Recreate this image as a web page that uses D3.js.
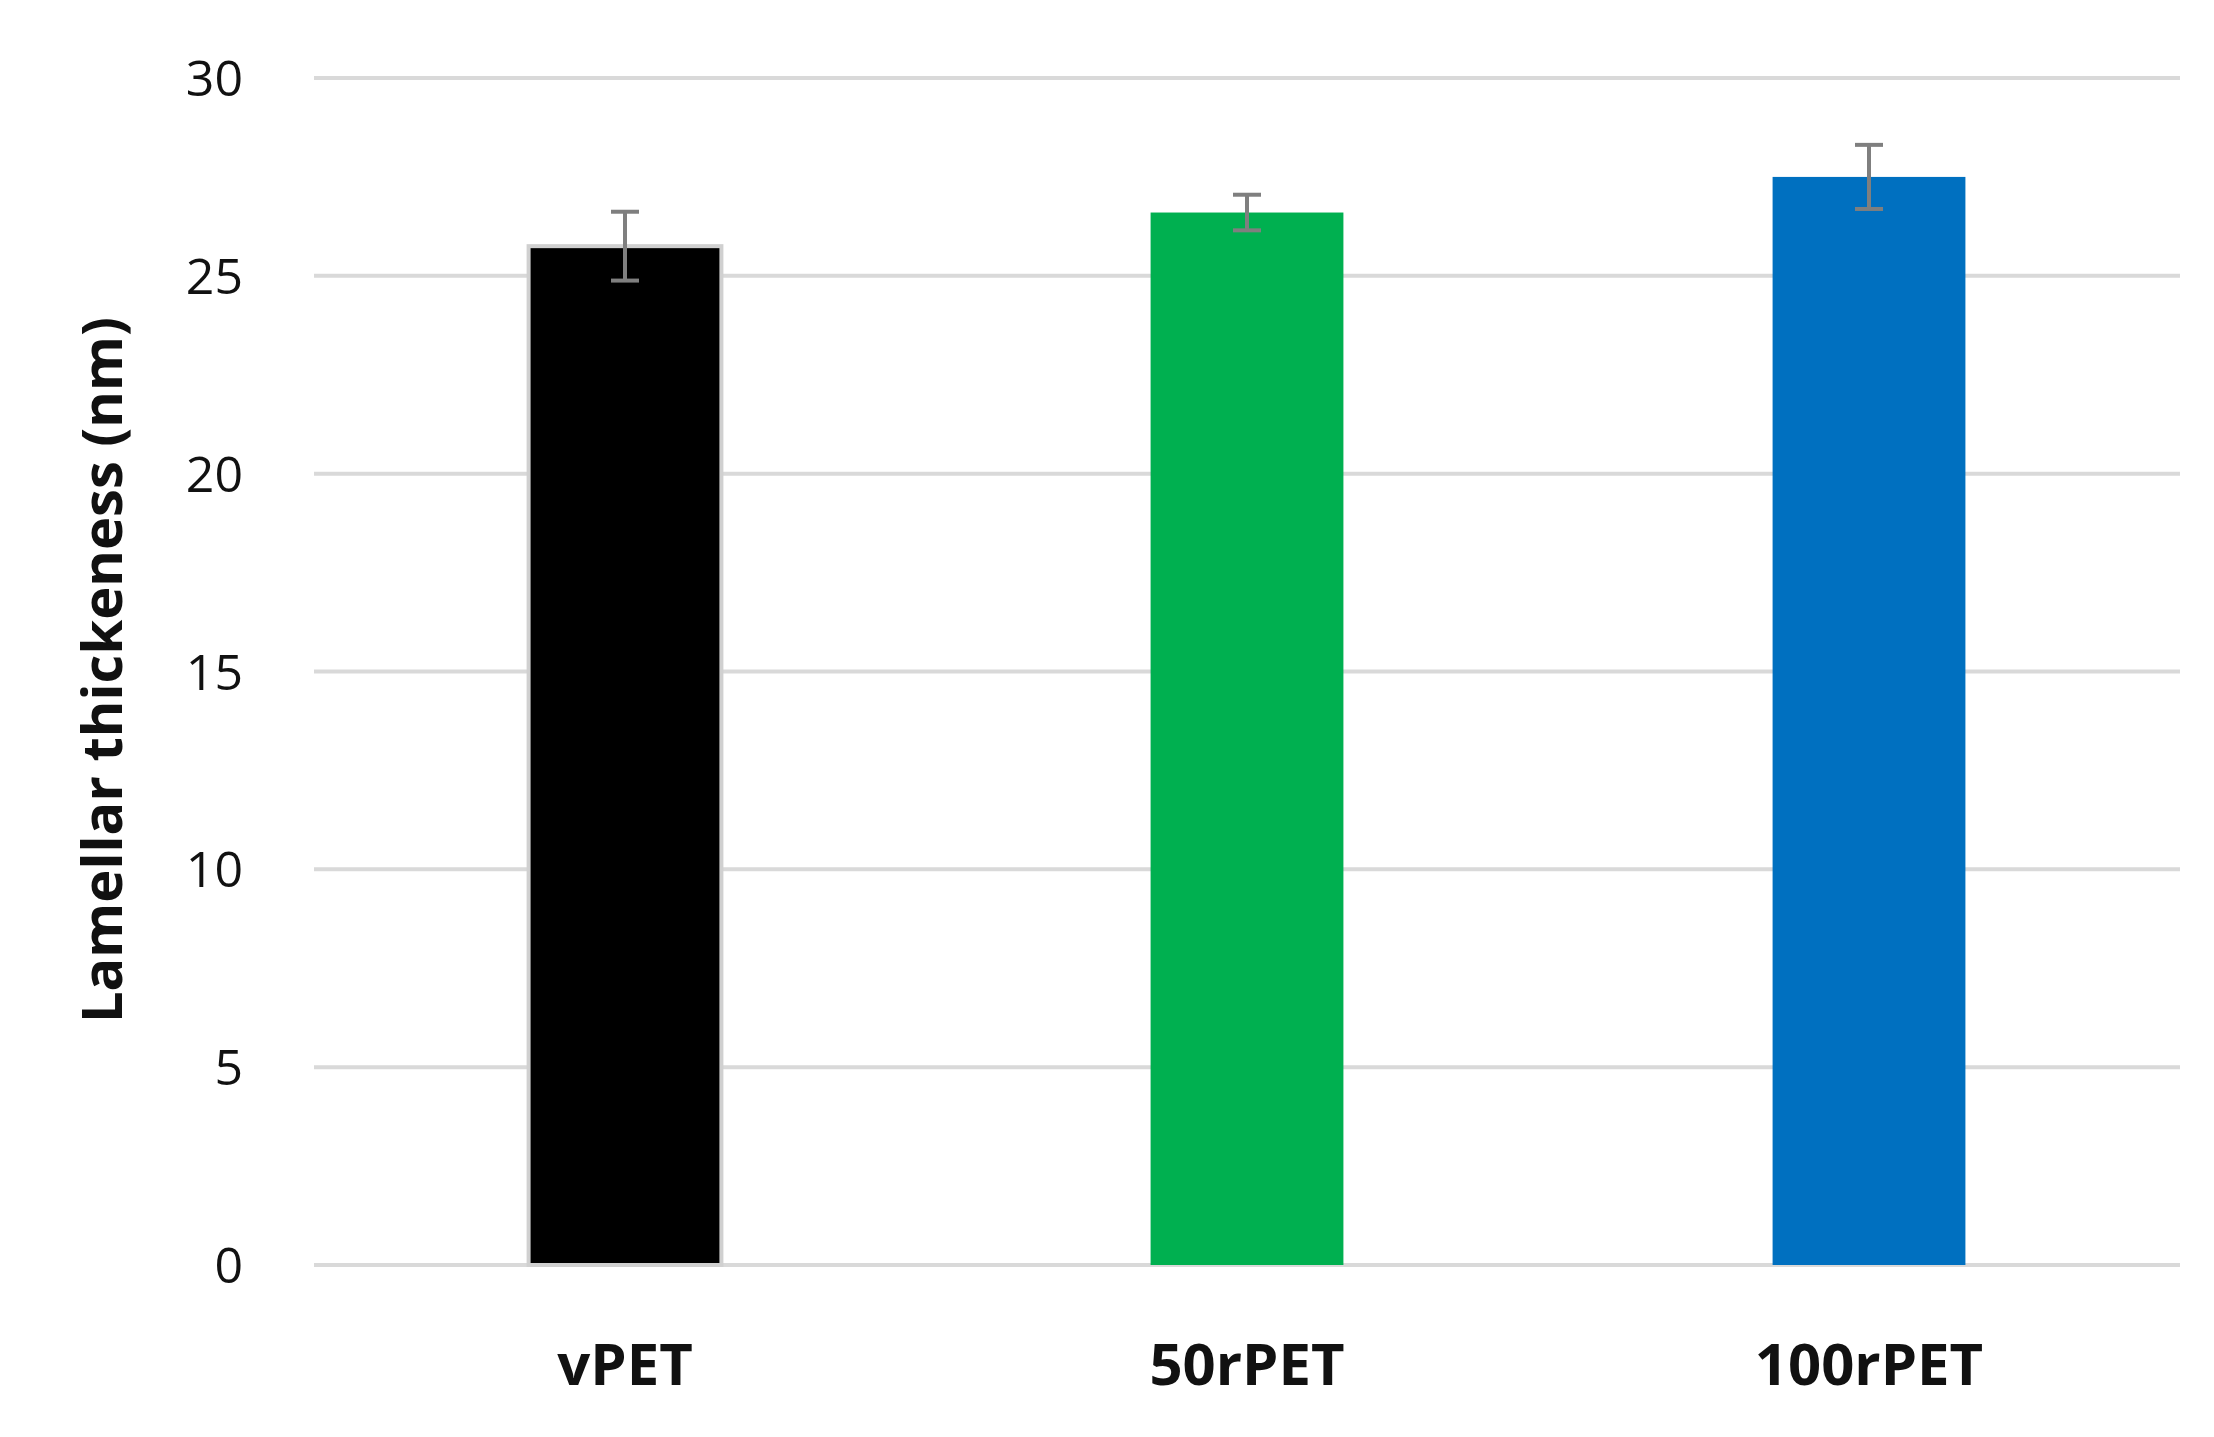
<!DOCTYPE html>
<html><head><meta charset="utf-8">
<script src="https://cdn.jsdelivr.net/npm/d3@7"></script>
<style>body{margin:0;background:#fff}</style>
</head><body>
<svg id="chart" width="2214" height="1437"></svg>
<script>
const categories = ['vPET', '50rPET', '100rPET'];
const values = [25.75, 26.6, 27.5];
const errors = [0.87, 0.45, 0.81];
const colors = ['#000000', '#00b050', '#0070c0'];
const yTicks = [0, 5, 10, 15, 20, 25, 30];

const svg = d3.select('#chart');
const margin = {top: 78, right: 34, bottom: 172, left: 314};
const W = 2214, H = 1437;
const font = '"Open Sans", sans-serif';

const x = d3.scaleBand().domain(categories)
  .range([margin.left, W - margin.right]).paddingInner(0.69).paddingOuter(0.345);
const y = d3.scaleLinear().domain([0, 30]).range([H - margin.bottom, margin.top]);

svg.append('g').selectAll('line').data(yTicks).join('line')
  .attr('x1', margin.left).attr('x2', W - margin.right)
  .attr('y1', d => y(d)).attr('y2', d => y(d))
  .attr('stroke', '#d9d9d9').attr('stroke-width', 4);

svg.append('g').selectAll('text').data(yTicks).join('text')
  .attr('x', 243).attr('y', d => y(d)).attr('dy', '0.36em')
  .attr('text-anchor', 'end').attr('font-family', font).attr('font-size', 50)
  .attr('fill', '#111').text(d => d);

svg.append('g').selectAll('rect').data(values).join('rect')
  .attr('x', (d, i) => x(categories[i])).attr('width', x.bandwidth())
  .attr('y', d => y(d)).attr('height', d => y(0) - y(d))
  .attr('fill', (d, i) => colors[i])
  .attr('stroke', (d, i) => i === 0 ? '#d0d0d0' : 'none').attr('stroke-width', 4);

const eb = svg.append('g').attr('stroke', '#7f7f7f').attr('stroke-width', 4);
values.forEach((v, i) => {
  const cx = x(categories[i]) + x.bandwidth() / 2;
  const hi = y(v + errors[i]), lo = y(v - errors[i]);
  eb.append('line').attr('x1', cx).attr('x2', cx).attr('y1', hi).attr('y2', lo);
  eb.append('line').attr('x1', cx - 14).attr('x2', cx + 14).attr('y1', hi).attr('y2', hi);
  eb.append('line').attr('x1', cx - 14).attr('x2', cx + 14).attr('y1', lo).attr('y2', lo);
});

svg.append('g').selectAll('text').data(categories).join('text')
  .attr('x', d => x(d) + x.bandwidth() / 2).attr('y', 1385)
  .attr('text-anchor', 'middle').attr('font-family', font).attr('font-weight', 'bold')
  .attr('font-size', 58).attr('fill', '#111').text(d => d);

svg.append('text')
  .attr('transform', 'translate(122,670) rotate(-90)')
  .attr('text-anchor', 'middle').attr('font-family', font).attr('font-weight', 'bold')
  .attr('font-size', 56).attr('fill', '#111').text('Lamellar thickeness (nm)');
</script>
</body></html>
